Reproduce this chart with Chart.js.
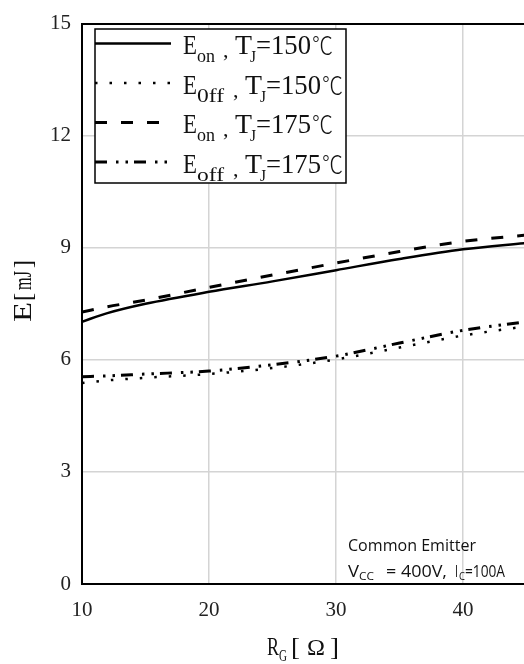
<!DOCTYPE html>
<html>
<head>
<meta charset="utf-8">
<script src="https://cdn.jsdelivr.net/npm/chart.js@4"></script>
<style>
html,body{margin:0;padding:0;background:#fff;}
canvas{display:block;}
</style>
</head>
<body>
<canvas id="c" width="524" height="664"></canvas>
<script>
// ---- data ----
const rgValues = [10, 12, 15, 20, 25, 30, 35, 40, 45];
const eOn150  = [7.02, 7.25, 7.50, 7.82, 8.10, 8.40, 8.70, 8.96, 9.13];
const eOff150 = [5.38, 5.45, 5.52, 5.62, 5.78, 6.01, 6.33, 6.65, 6.90];
const eOn175  = [7.28, 7.42, 7.60, 7.94, 8.27, 8.59, 8.90, 9.17, 9.34];
const eOff175 = [5.55, 5.57, 5.62, 5.70, 5.87, 6.10, 6.45, 6.79, 7.02];
const xTicks = [10, 20, 30, 40];
const yTicks = [0, 3, 6, 9, 12, 15];
const seriesNames = [
  {main: 'E', sub: 'on',  t: '=150', unit: '℃'},
  {main: 'E', sub: '0ff', t: '=150', unit: '℃'},
  {main: 'E', sub: 'on',  t: '=175', unit: '℃'},
  {main: 'E', sub: 'off', t: '=175', unit: '℃'}
];
const annotationLines = ['Common Emitter'];

const SERIF = '"Liberation Serif", "DejaVu Serif", serif';
const UNITF = '"Noto Sans CJK JP", "DejaVu Sans", sans-serif';
const SANS = '"Open Sans", "Noto Sans", sans-serif';

function pts(arr){ return rgValues.map((x,i)=>({x:x, y:arr[i]})); }

const styles = [
  {w:2.5, dash:[]},
  {w:2.5, dash:[2.5,12]},
  {w:3, dash:[12,14]},
  {w:3, dash:[12,9,2.5,7,2.5,6]}
];
const seriesData = [eOn150, eOff150, eOn175, eOff175];

function drawFit(ctx, text, x, y, size, family, targetW, weight){
  ctx.save();
  ctx.font = (weight ? weight + ' ' : '') + size + 'px ' + family;
  ctx.textAlign = 'left';
  ctx.textBaseline = 'alphabetic';
  const w = ctx.measureText(text).width;
  const sx = targetW ? targetW / w : 1;
  ctx.translate(x, y);
  ctx.scale(sx, 1);
  ctx.fillText(text, 0, 0);
  ctx.restore();
}

const overlay = {
  id: 'overlay',
  afterDraw(chart){
    const ctx = chart.ctx;
    ctx.save();
    // legend box
    const L = 95, T = 29, R = 346, B = 183;
    ctx.fillStyle = '#fff';
    ctx.fillRect(L, T, R-L, B-T);
    ctx.strokeStyle = '#000';
    ctx.lineWidth = 1.5;
    ctx.strokeRect(L, T, R-L, B-T);
    const rowY = [43.5, 83, 122.5, 162];
    const baseY = [54, 93.5, 133, 172.5];
    for (let i=0;i<4;i++){
      ctx.save();
      ctx.strokeStyle = '#000';
      ctx.lineWidth = styles[i].w;
      ctx.setLineDash(styles[i].dash);
      ctx.beginPath();
      ctx.moveTo(L, rowY[i]);
      ctx.lineTo(171, rowY[i]);
      ctx.stroke();
      ctx.restore();
      ctx.fillStyle = '#111';
      const n = seriesNames[i];
      const wide = n.sub.length === 3;
      const by = baseY[i];
      drawFit(ctx, n.main, 183, by, 27, SERIF, 14);
      drawFit(ctx, n.sub, 197, by+8, 18, SERIF, wide ? 27 : 18);
      drawFit(ctx, ',', wide ? 233 : 223, by+3, 22, SERIF);
      const tx = wide ? 245 : 235;
      drawFit(ctx, 'T', tx, by, 27, SERIF, 17);
      drawFit(ctx, 'J', tx+15, by+8, 17, SERIF, 6);
      drawFit(ctx, n.t, tx+21, by, 27, SERIF, 55);
      drawFit(ctx, n.unit, tx+77, by, 24, UNITF, 21, 300);
    }
    // x title
    ctx.fillStyle = '#111';
    drawFit(ctx, 'R', 267, 655, 26, SERIF, 12);
    drawFit(ctx, 'G', 279, 661, 17, SERIF, 8);
    drawFit(ctx, '[', 291, 655, 26, SERIF, 9);
    drawFit(ctx, 'Ω', 307, 655, 24, SERIF, 18);
    drawFit(ctx, ']', 330, 655, 26, SERIF, 9);
    // y title
    ctx.save();
    ctx.translate(31, 322);
    ctx.rotate(-Math.PI/2);
    drawFit(ctx, 'E', 0, 0, 26, SERIF, 20);
    drawFit(ctx, '[', 21, 0, 26, SERIF, 8);
    drawFit(ctx, 'mJ', 32, 0, 26, SERIF, 19);
    drawFit(ctx, ']', 54, 0, 26, SERIF, 8);
    ctx.restore();
    // annotation
    ctx.fillStyle = '#111';
    drawFit(ctx, annotationLines[0], 348, 551, 16, SANS, 128);
    drawFit(ctx, 'V', 348, 577, 16, SANS, 11);
    drawFit(ctx, 'CC', 359, 580, 10, SANS, 15);
    drawFit(ctx, '= 400V,', 386, 577, 16, SANS, 61);
    drawFit(ctx, 'I', 455, 577, 16, SANS, 3);
    drawFit(ctx, 'C', 459, 580, 10, SANS, 6);
    drawFit(ctx, '=100A', 465, 577, 16, SANS, 40);
    ctx.restore();
  }
};

new Chart(document.getElementById('c'), {
  type: 'line',
  data: {
    datasets: seriesData.map((arr,i)=>({
      label: seriesNames[i].main + seriesNames[i].sub + seriesNames[i].t + seriesNames[i].unit,
      data: pts(arr),
      borderColor: '#000',
      borderWidth: styles[i].w,
      borderDash: styles[i].dash,
      pointRadius: 0,
      fill: false,
      cubicInterpolationMode: 'monotone',
      borderCapStyle: 'butt'
    }))
  },
  options: {
    responsive: false,
    animation: false,
    devicePixelRatio: 1,
    layout: {padding: {top: 17, right: 0, left: 0, bottom: 0}},
    plugins: {legend: {display: false}, tooltip: {enabled: false}},
    scales: {
      x: {
        type: 'linear', min: 10, max: 44.8,
        afterBuildTicks: s => { s.ticks = xTicks.map(v=>({value:v})); },
        afterFit: s => { s.height = 80; },
        grid: {color: '#d4d4d4', lineWidth: 1.5, drawTicks: false},
        border: {color: '#000', width: 2},
        ticks: {color: '#222', padding: 14, font: {family: SERIF, size: 21}, maxRotation: 0}
      },
      y: {
        type: 'linear', min: 0, max: 15,
        afterBuildTicks: s => { s.ticks = yTicks.map(v=>({value:v})); },
        afterFit: s => { s.width = 82; },
        grid: {
          color: c => (c.tick && c.tick.value === 15) ? '#000' : '#d4d4d4',
          lineWidth: c => (c.tick && c.tick.value === 15) ? 2 : 1.5,
          drawTicks: false
        },
        border: {color: '#000', width: 2},
        ticks: {color: '#222', padding: 11, font: {family: SERIF, size: 21}}
      }
    }
  },
  plugins: [overlay]
});
</script>
</body>
</html>
